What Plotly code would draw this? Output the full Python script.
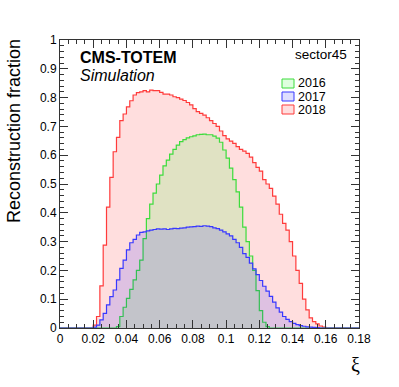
import plotly.graph_objects as go

# bin left edges: 90 bins of width 0.002 from 0 to 0.18
xi_edges = [round(0.002 * i, 3) for i in range(91)]

frac_2018 = [0, 0, 0, 0, 0, 0, 0, 0, 0, 0,
             0.01, 0.04, 0.146, 0.288, 0.42, 0.523, 0.612, 0.662, 0.72, 0.743,
             0.768, 0.789, 0.809, 0.817, 0.82, 0.824, 0.82, 0.826, 0.824, 0.824,
             0.818, 0.812, 0.812, 0.809, 0.803, 0.80, 0.795, 0.79, 0.783, 0.775,
             0.762, 0.751, 0.745, 0.739, 0.73, 0.72, 0.71, 0.70, 0.684, 0.668,
             0.657, 0.649, 0.641, 0.63, 0.62, 0.614, 0.606, 0.593, 0.574, 0.558,
             0.545, 0.515, 0.50, 0.485, 0.458, 0.43, 0.395, 0.363, 0.34, 0.30,
             0.25, 0.20, 0.155, 0.10, 0.063, 0.035, 0.022, 0.014, 0.007, 0.003,
             0, 0, 0, 0, 0, 0, 0, 0, 0, 0]

frac_2016 = [0, 0, 0, 0, 0, 0, 0, 0, 0, 0,
             0, 0, 0, 0, 0, 0, 0, 0.005, 0.04, 0.072,
             0.103, 0.134, 0.167, 0.20, 0.236, 0.31, 0.38, 0.43, 0.468, 0.50,
             0.531, 0.563, 0.583, 0.604, 0.62, 0.635, 0.647, 0.654, 0.66, 0.664,
             0.667, 0.671, 0.672, 0.673, 0.671, 0.671, 0.666, 0.659, 0.645, 0.618,
             0.59, 0.555, 0.515, 0.473, 0.42, 0.35, 0.30, 0.25, 0.20, 0.13,
             0.06, 0.02, 0.005, 0, 0, 0, 0, 0, 0, 0,
             0, 0, 0, 0, 0, 0, 0, 0, 0, 0,
             0, 0, 0, 0, 0, 0, 0, 0, 0, 0]

frac_2017 = [0, 0, 0, 0, 0, 0, 0, 0, 0, 0,
             0.003, 0.01, 0.028, 0.051, 0.08, 0.109, 0.132, 0.167, 0.207, 0.236,
             0.271, 0.296, 0.308, 0.323, 0.332, 0.334, 0.337, 0.340, 0.342, 0.344,
             0.343, 0.344, 0.342, 0.344, 0.346, 0.345, 0.347, 0.348, 0.350, 0.351,
             0.352, 0.354, 0.353, 0.355, 0.354, 0.352, 0.348, 0.345, 0.34, 0.334,
             0.327, 0.32, 0.308, 0.296, 0.28, 0.258, 0.245, 0.225, 0.205, 0.185,
             0.165, 0.145, 0.128, 0.11, 0.09, 0.07, 0.055, 0.04, 0.03, 0.022,
             0.016, 0.012, 0.008, 0.006, 0.004, 0.003, 0.002, 0.001, 0, 0,
             0, 0, 0, 0, 0, 0, 0, 0, 0, 0]

series = [
    ("2018", frac_2018, "#ff3b3b", "rgba(255,0,0,0.13)"),
    ("2016", frac_2016, "#3cdc3c", "rgba(0,255,0,0.12)"),
    ("2017", frac_2017, "#3838ff", "rgba(0,0,255,0.13)"),
]

FONT = "Liberation Sans, Arial, Helvetica, sans-serif"

fig = go.Figure()
for name, vals, lc, fc in series:
    fig.add_trace(go.Scatter(
        x=xi_edges, y=list(vals) + [vals[-1]],
        mode="lines", line=dict(shape="hv", color=lc, width=1.2),
        fill="tozeroy", fillcolor=fc, name=name, showlegend=False,
        hoverinfo="skip"))

axis_common = dict(
    showgrid=False, zeroline=False, showline=True, linecolor="#333",
    linewidth=1, mirror="ticks", ticks="inside", tickcolor="#333",
    tickfont=dict(family=FONT, size=12, color="black"),
)
fig.update_xaxes(range=[0, 0.18], dtick=0.02, tick0=0, ticklen=8,
                 minor=dict(ticks="inside", dtick=0.005, ticklen=4, tickcolor="#333"),
                 **axis_common)
fig.update_yaxes(range=[0, 1], dtick=0.1, tick0=0, ticklen=8,
                 minor=dict(ticks="inside", dtick=0.02, ticklen=4, tickcolor="#333"),
                 **axis_common)

ann = [
    dict(text="Reconstruction fraction", xref="paper", yref="paper",
         x=(14 - 60) / 299, y=(328 - 37) / 288, xanchor="center", yanchor="top",
         textangle=-90, showarrow=False,
         font=dict(family=FONT, size=18, color="black")),
    dict(text="ξ", xref="paper", yref="paper", x=0.987, y=-0.128,
         xanchor="center", yanchor="middle", showarrow=False,
         font=dict(family="Liberation Serif, DejaVu Serif, serif", size=20, color="black")),
    dict(text="<b>CMS-TOTEM</b>", xref="paper", yref="paper", x=0.06, y=(328 - 57) / 288,
         xanchor="left", yanchor="middle", showarrow=False,
         font=dict(family=FONT, size=16, color="black")),
    dict(text="<i>Simulation</i>", xref="paper", yref="paper", x=0.06, y=(328 - 75) / 288,
         xanchor="left", yanchor="middle", showarrow=False,
         font=dict(family=FONT, size=16, color="black")),
    dict(text="sector45", xref="paper", yref="paper", x=(349 - 60) / 299, y=(328 - 54) / 288,
         xanchor="right", yanchor="middle", showarrow=False,
         font=dict(family=FONT, size=13.5, color="black")),
]

# custom legend (boxes + labels)
legend_items = [("2016", "#3cdc3c", "rgba(0,255,0,0.13)", 83.5),
                ("2017", "#3838ff", "rgba(0,0,255,0.13)", 96.5),
                ("2018", "#ff3b3b", "rgba(255,0,0,0.13)", 109.5)]
shapes = []
for lab, lc, fc, yc in legend_items:
    y0 = (328 - (yc + 4.5)) / 288
    y1 = (328 - (yc - 4.5)) / 288
    shapes.append(dict(type="rect", xref="paper", yref="paper",
                       x0=(282 - 60) / 299, x1=(294 - 60) / 299, y0=y0, y1=y1,
                       line=dict(color=lc, width=1), fillcolor=fc))
    ann.append(dict(text=lab, xref="paper", yref="paper", x=(296 - 60) / 299,
                    y=(328 - yc) / 288, xanchor="left", yanchor="middle",
                    showarrow=False, font=dict(family=FONT, size=12.5, color="black")))

fig.update_layout(
    width=399, height=387,
    margin=dict(l=60, r=40, t=40, b=59),
    paper_bgcolor="white", plot_bgcolor="white",
    annotations=ann, shapes=shapes, showlegend=False,
)

# remove the default page margin so the figure starts at the window's top-left corner
fig.write_html("out.html",
               config={"displayModeBar": False, "staticPlot": True},
               post_script="document.body.style.margin='0';document.body.style.padding='0';")
